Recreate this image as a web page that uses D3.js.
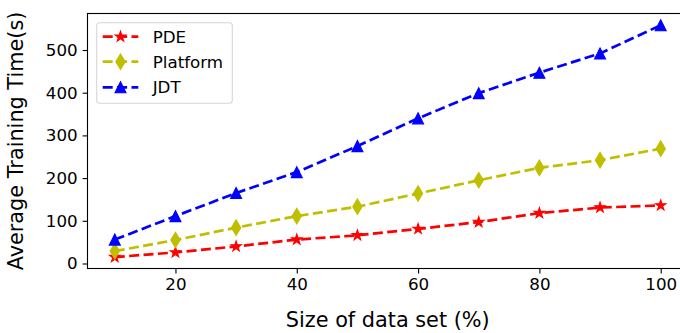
<!DOCTYPE html>
<html>
<head>
<meta charset="utf-8">
<script src="https://cdn.jsdelivr.net/npm/d3@7"></script>
<style>
  html, body { margin: 0; padding: 0; background: #fff; }
  svg { display: block; font-family: "DejaVu Sans", sans-serif; }
</style>
</head>
<body>
<svg id="chart" width="680" height="333"></svg>
<script>
'use strict';

// data
var sizes = [10, 20, 30, 40, 50, 60, 70, 80, 90, 100];
var pde = [15, 26, 40, 56, 66, 81, 97, 118, 131, 136];
var platform = [29, 55, 84, 111, 133, 164, 195, 224, 242, 269];
var jdt = [56, 111, 165, 214, 275, 340, 399, 447, 492, 558];
var xTicks = [20, 40, 60, 80, 100];
var yTicks = [0, 100, 200, 300, 400, 500];
var seriesNames = ['PDE', 'Platform', 'JDT'];

var series = [
  { name: seriesNames[0], values: pde, color: '#ff0000', marker: 'star' },
  { name: seriesNames[1], values: platform, color: '#bfbf00', marker: 'diamond' },
  { name: seriesNames[2], values: jdt, color: '#0000ff', marker: 'triangle' }
];

var margin = { top: 13.5, right: -8, bottom: 64.5, left: 87.5 },
    width = 680,
    height = 333,
    innerW = width - margin.left - margin.right,
    innerH = height - margin.top - margin.bottom;

var x = d3.scaleLinear().domain([5.5, 104.5]).range([0, innerW]);
var y = d3.scaleLinear().domain([-11.7, 585.5]).range([innerH, 0]);

// marker shapes (matplotlib-like), ms = marker size in px
var ms = 11;
var lw = 2.7, dash = '10,4.4';
function markerPath(kind) {
  var p = d3.path(), i, a, r;
  if (kind === 'triangle') {
    p.moveTo(0, -ms / 2); p.lineTo(ms / 2, ms / 2); p.lineTo(-ms / 2, ms / 2); p.closePath();
  } else if (kind === 'diamond') {
    var h = ms * 0.707, w = h * 0.6;
    p.moveTo(0, -h); p.lineTo(w, 0); p.lineTo(0, h); p.lineTo(-w, 0); p.closePath();
  } else {
    for (i = 0; i < 10; i++) {
      r = (i % 2 === 0) ? ms / 2 : ms / 2 * 0.381966;
      a = -Math.PI / 2 + i * Math.PI / 5;
      if (i === 0) p.moveTo(r * Math.cos(a), r * Math.sin(a));
      else p.lineTo(r * Math.cos(a), r * Math.sin(a));
    }
    p.closePath();
  }
  return p.toString();
}

var svg = d3.select('#chart');
var g = svg.append('g').attr('transform', 'translate(' + margin.left + ',' + margin.top + ')');

// axes
var xAxis = g.append('g')
  .attr('transform', 'translate(0,' + innerH + ')')
  .call(d3.axisBottom(x).tickValues(xTicks).tickSize(4.9).tickPadding(4.9));
var yAxis = g.append('g')
  .call(d3.axisLeft(y).tickValues(yTicks).tickSize(4.9).tickPadding(4.9));

[xAxis, yAxis].forEach(function(ax) {
  ax.select('.domain').remove();
  ax.selectAll('line').attr('stroke', '#000').attr('stroke-width', 1.1);
  ax.selectAll('text').attr('fill', '#000').style('font-size', '16.7px')
    .style('font-family', '"DejaVu Sans", sans-serif');
});

// frame
g.append('rect')
  .attr('width', innerW).attr('height', innerH)
  .attr('fill', 'none').attr('stroke', '#000').attr('stroke-width', 1.1);

var line = d3.line()
  .x(function(d, i) { return x(sizes[i]); })
  .y(function(d) { return y(d); });

series.forEach(function(s) {
  g.append('path')
    .datum(s.values)
    .attr('d', line)
    .attr('fill', 'none')
    .attr('stroke', s.color)
    .attr('stroke-width', lw)
    .attr('stroke-dasharray', dash);

  g.selectAll(null)
    .data(s.values)
    .enter()
    .append('path')
    .attr('transform', function(d, i) { return 'translate(' + x(sizes[i]) + ',' + y(d) + ')'; })
    .attr('d', markerPath(s.marker))
    .attr('fill', s.color)
    .attr('stroke', s.color)
    .attr('stroke-width', 1.1);
});

// axis labels
svg.append('text')
  .attr('x', margin.left + innerW / 2)
  .attr('y', 326.7)
  .attr('text-anchor', 'middle')
  .style('font-size', '20.8px')
  .text('Size of data set (%)');

svg.append('text')
  .attr('transform', 'translate(22.5,' + (margin.top + innerH / 2) + ') rotate(-90)')
  .attr('text-anchor', 'middle')
  .style('font-size', '20.8px')
  .text('Average Training Time(s)');

// legend
var leg = svg.append('g').attr('transform', 'translate(96.7,22.7)');
leg.append('rect')
  .attr('width', 135.6).attr('height', 80.6)
  .attr('rx', 3).attr('ry', 3)
  .attr('fill', '#fff').attr('fill-opacity', 0.8)
  .attr('stroke', '#d6d6d6').attr('stroke-width', 1.1);

var rowY = [14, 39, 64.6];
series.forEach(function(s, i) {
  var row = leg.append('g').attr('transform', 'translate(0,' + rowY[i] + ')');
  row.append('line')
    .attr('x1', 6).attr('x2', 41.6)
    .attr('stroke', s.color).attr('stroke-width', lw)
    .attr('stroke-dasharray', dash);
  row.append('path')
    .attr('transform', 'translate(23.8,0)')
    .attr('d', markerPath(s.marker))
    .attr('fill', s.color).attr('stroke', s.color).attr('stroke-width', 1.1);
  row.append('text')
    .attr('x', 56).attr('dy', '0.36em')
    .style('font-size', '16.7px')
    .text(s.name);
});
</script>
</body>
</html>
